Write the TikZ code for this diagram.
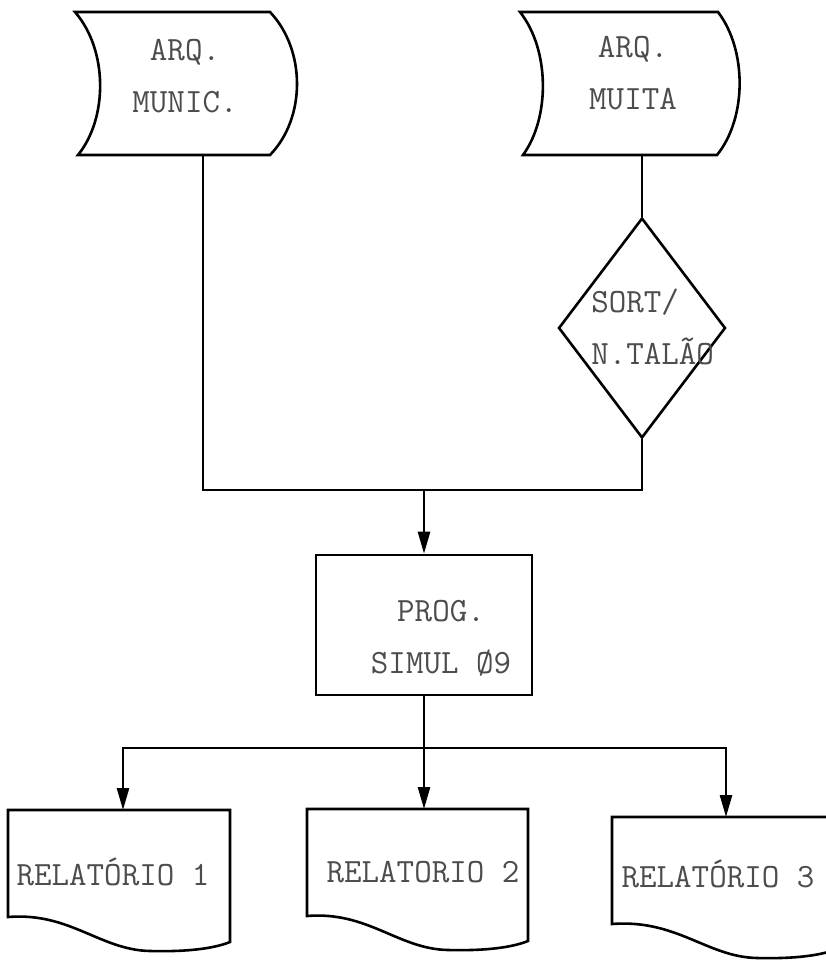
\documentclass[tikz,border=0pt]{standalone}
\usepackage{fontspec}
\usetikzlibrary{shapes.geometric,arrows.meta}
\newcommand\mydoc[3]{% left x, top y, width
  \draw[shift={(#1,#2)}] (0,0) -- (#3,0) -- (#3,132)
    .. controls ({#3-15},138) and ({#3-40},142) .. ({#3-80},141)
    .. controls ({#3-130},140) and ({#3-160},102) .. (0,107) -- cycle;}
\begin{document}
\begin{tikzpicture}[x=1pt,y=-1pt,line width=2.6pt,
  lbl/.style={font=\ttfamily\fontsize{34}{52}\selectfont,text=black!70,inner sep=0pt,align=center},
  arr/.style={-{Triangle[length=22pt,width=12pt]}}]
\useasboundingbox (0,0) rectangle (826,960);
\fill[white] (0,0) rectangle (826,960);
\clip (0,0) rectangle (826,960);

% stored data 1
\draw (75,12) -- (270,12) .. controls (306,50) and (306,118) .. (270,155)
  -- (78,155) .. controls (108,118) and (108,50) .. (75,12) -- cycle;
\node[lbl] (s1t) at (185,76) {ARQ.\\MUNIC.};
\coordinate (s1b) at (203,155);

% stored data 2
\draw (520,12) -- (718,12) .. controls (747,50) and (747,118) .. (717,155)
  -- (523,155) .. controls (550,118) and (550,50) .. (520,12) -- cycle;
\node[lbl] (s2t) at (633,73) {ARQ.\\MUITA};
\coordinate (s2b) at (642,155);

% sort diamond
\node[diamond,draw,minimum width=167pt,minimum height=220pt,inner sep=0pt] (sort) at (642,328) {};
\node[lbl,align=left,anchor=west] (sortt) at (590,327) {SORT/\\N.TALÃO};

% process
\node[draw,minimum width=216pt,minimum height=140pt,inner sep=0pt] (prog) at (424,625) {};
\node[lbl] (progt) at (441,638) {PROG.\\SIMUL Ø9};

% documents
\mydoc{8}{810}{222}
\node[lbl] (r1t) at (113,872) {RELATÓRIO 1};
\coordinate (d1) at (123,810);
\mydoc{307}{809}{221}
\node[lbl] (r2t) at (423,872) {RELATORIO 2};
\coordinate (d2) at (424,809);
\mydoc{612}{817}{225}
\node[lbl] (r3t) at (718,874) {RELATÓRIO 3};
\coordinate (d3) at (726,817);

% connectors
\coordinate (jm) at (424,490);
\coordinate (bm) at (424,748);
\draw (s2b) -- (sort.north);
\draw (s1b) |- (jm) -| (sort.south);
\draw[arr] (jm) -- (prog.north);
\draw (prog.south) -- (bm);
\draw[arr] (bm) -| (d1);
\draw[arr] (bm) -- (d2);
\draw[arr] (bm) -| (d3);
\end{tikzpicture}
\end{document}
